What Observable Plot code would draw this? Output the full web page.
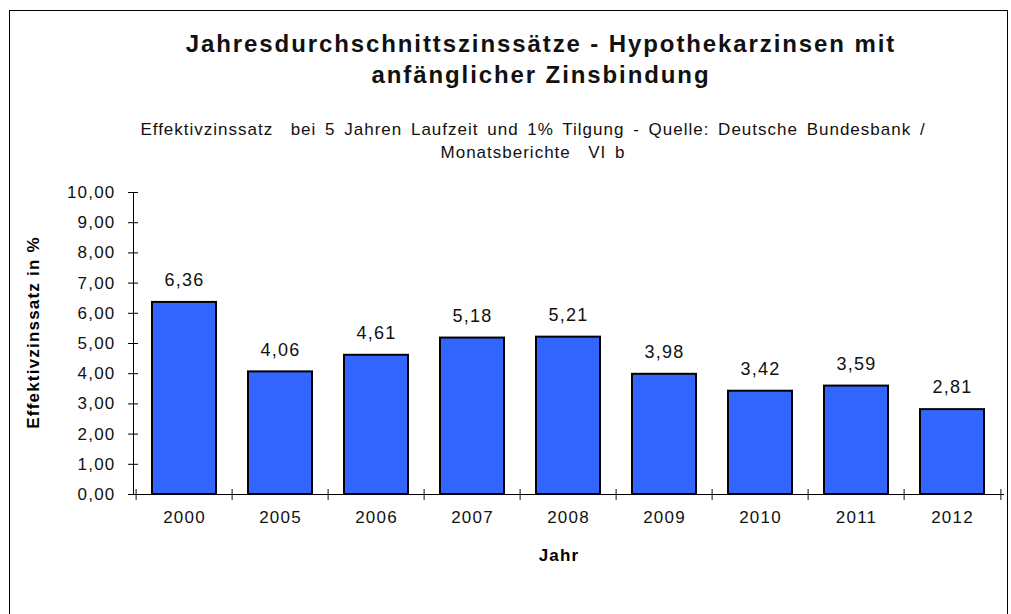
<!DOCTYPE html>
<html>
<head>
<meta charset="utf-8">
<script src="https://cdn.jsdelivr.net/npm/d3@7"></script>
<script src="https://cdn.jsdelivr.net/npm/@observablehq/plot@0.6"></script>
<style>
  html, body { margin: 0; padding: 0; background: #fff; }
  #wrap { position: relative; width: 1011px; height: 614px; overflow: hidden; font-family: "Liberation Sans", Arial, sans-serif; color: #000; }
  #border { position: absolute; left: 9px; top: 10px; width: 999px; height: 640px; border: 1px solid #000; box-sizing: border-box; }
  #title { position: absolute; left: 91px; width: 900px; top: 28px; text-align: center; font-weight: bold; font-size: 24px; letter-spacing: 1.9px; line-height: 31px; color: #111; }
  #subtitle { position: absolute; left: 33px; width: 1000px; top: 118px; text-align: center; font-size: 17px; letter-spacing: 1px; word-spacing: 3px; line-height: 23px; color: #111; }
  #chart { position: absolute; left: 0; top: 170px; }
</style>
</head>
<body>
<div id="wrap">
  <div id="border"></div>
  <div id="title">Jahresdurchschnittszinssätze - Hypothekarzinsen mit<br>anfänglicher Zinsbindung</div>
  <div id="subtitle">Effektivzinssatz&nbsp; bei 5 Jahren Laufzeit und 1% Tilgung - Quelle: Deutsche Bundesbank /<br>Monatsberichte&nbsp; VI b</div>
  <div id="chart"></div>
</div>
<script>
const years = ["2000", "2005", "2006", "2007", "2008", "2009", "2010", "2011", "2012"];
const rates = [6.36, 4.06, 4.61, 5.18, 5.21, 3.98, 3.42, 3.59, 2.81];
const yTicks = [0, 1, 2, 3, 4, 5, 6, 7, 8, 9, 10];
const yLabel = "Effektivzinssatz in %";
const xLabel = "Jahr";

const data = years.map((y, i) => ({year: y, rate: rates[i]}));
const fmt = v => v.toFixed(2).replace(".", ",");

const W = 1011, H = 444;
const mL = 133, mR = 7, mT = 22, mB = 120;
const step = (W - mL - mR) / years.length;

const plot = Plot.plot({
  width: W,
  height: H,
  marginLeft: mL,
  marginRight: mR,
  marginTop: mT,
  marginBottom: mB,
  style: {fontFamily: "Liberation Sans, Arial, sans-serif", fontSize: "17px", color: "#111", background: "transparent", letterSpacing: "1.2px"},
  x: {domain: years, paddingInner: 0.33, paddingOuter: 0.165, label: null},
  y: {domain: [0, 10], label: null},
  marks: [
    Plot.barY(data, {x: "year", y: "rate", fill: "#3366ff", stroke: "#000", strokeWidth: 2}),
    Plot.text(data, {x: "year", y: "rate", text: d => fmt(d.rate), dy: -22, fontSize: 18, fill: "#111"}),
    Plot.ruleY([0], {stroke: "#000"}),
    Plot.frame({anchor: "left", stroke: "#000"}),
    Plot.axisY({ticks: yTicks, tickFormat: fmt, tickSize: 10, dx: 5, tickPadding: 13, fontSize: 17, label: null, stroke: "#000"}),
    Plot.axisX({ticks: years, tickSize: 0, tickPadding: 16, fontSize: 17, label: null}),
    Plot.axisX({ticks: years, tickFormat: () => "", tickSize: 11, dx: -step / 2, dy: -5, label: null}),
    Plot.axisX({ticks: years.slice(-1), tickFormat: () => "", tickSize: 11, dx: step / 2, dy: -5, label: null}),
    Plot.text([yLabel], {frameAnchor: "left", textAnchor: "middle", dx: -100, dy: -11, rotate: -90, fontWeight: "bold", fontSize: 17, fill: "#000"}),
    Plot.text([xLabel], {frameAnchor: "bottom", dx: -10, dy: 66, fontWeight: "bold", fontSize: 17, fill: "#000"})
  ]
});
document.getElementById("chart").appendChild(plot);
</script>
</body>
</html>
